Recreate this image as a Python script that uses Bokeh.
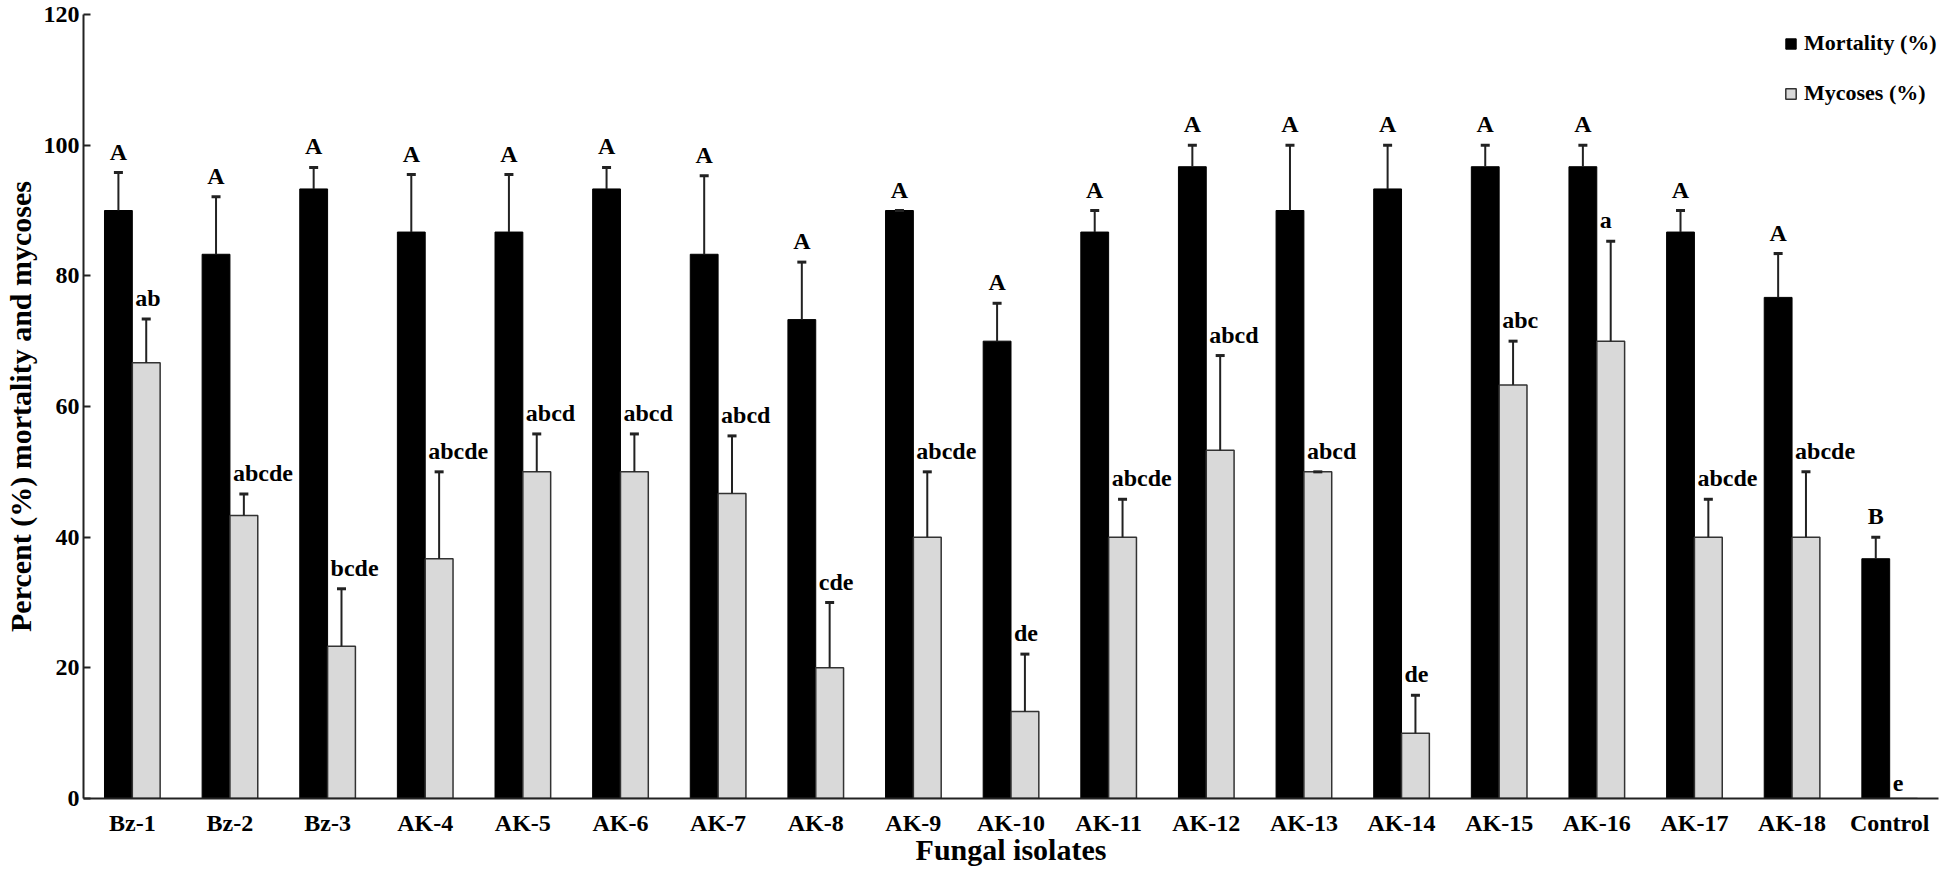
import numpy as np
from bokeh.plotting import figure
from bokeh.models import ColumnDataSource, FactorRange, Range1d, Legend, LegendItem
from bokeh.transform import dodge
from bokeh.core.properties import value
from bokeh.embed import file_html
from bokeh.resources import INLINE

isolates = ["Bz-1", "Bz-2", "Bz-3", "AK-4", "AK-5", "AK-6", "AK-7", "AK-8", "AK-9", "AK-10",
            "AK-11", "AK-12", "AK-13", "AK-14", "AK-15", "AK-16", "AK-17", "AK-18", "Control"]
mortality = [90, 83.3, 93.3, 86.7, 86.7, 93.3, 83.3, 73.3, 90, 70,
             86.7, 96.7, 90, 93.3, 96.7, 96.7, 86.7, 76.7, 36.7]
mortality_se = [5.8, 8.8, 3.3, 8.8, 8.8, 3.3, 12.0, 8.8, 0, 5.8,
                3.3, 3.3, 10, 6.7, 3.3, 3.3, 3.3, 6.7, 3.3]
mycoses = [66.7, 43.3, 23.3, 36.7, 50, 50, 46.7, 20, 40, 13.3,
           40, 53.3, 50, 10, 63.3, 70, 40, 40, 0]
mycoses_se = [6.7, 3.3, 8.8, 13.3, 5.8, 5.8, 8.8, 10, 10, 8.8,
              5.8, 14.5, 0, 5.8, 6.7, 15.3, 5.8, 10, np.nan]
mortality_letters = ["A"] * 18 + ["B"]
mycoses_letters = ["ab", "abcde", "bcde", "abcde", "abcd", "abcd", "abcd", "cde", "abcde", "de",
                   "abcde", "abcd", "abcd", "de", "abc", "a", "abcde", "abcde", "e"]

FONT = "Liberation Serif"
BW = 0.285

m = np.array(mortality, dtype=float)
me = np.array(mortality_se, dtype=float)
y = np.array(mycoses, dtype=float)
ye = np.array(mycoses_se, dtype=float)

src = ColumnDataSource(dict(
    cat=isolates, mort=m, mort_top=m + me, mort_lbl=mortality_letters,
    myc=y, myc_top=y + ye, myc_lbl_y=y + np.nan_to_num(ye), myc_lbl=mycoses_letters,
))

p = figure(width=1944, height=868, output_backend="svg", toolbar_location=None,
           x_range=FactorRange(*isolates, range_padding=0), y_range=Range1d(0, 120),
           min_border_left=80, min_border_right=6, min_border_top=14, min_border_bottom=64)
p.outline_line_color = None
p.grid.grid_line_color = None
p.background_fill_color = "white"

r1 = p.vbar(x=dodge("cat", -BW / 2, range=p.x_range), top="mort", width=BW, source=src,
            fill_color="black", line_color="black", line_width=1)
r2 = p.vbar(x=dodge("cat", BW / 2, range=p.x_range), top="myc", width=BW, source=src,
            fill_color="#d9d9d9", line_color="#333333", line_width=1.5)

# error bars (upper only)
p.segment(x0=dodge("cat", -BW / 2, range=p.x_range), y0="mort",
          x1=dodge("cat", -BW / 2, range=p.x_range), y1="mort_top",
          source=src, line_color="#222222", line_width=2)
p.scatter(x=dodge("cat", -BW / 2, range=p.x_range), y="mort_top", marker="dash", size=9,
          line_width=3, line_color="#222222", source=src)
p.segment(x0=dodge("cat", BW / 2, range=p.x_range), y0="myc",
          x1=dodge("cat", BW / 2, range=p.x_range), y1="myc_top",
          source=src, line_color="#222222", line_width=2)
p.scatter(x=dodge("cat", BW / 2, range=p.x_range), y="myc_top", marker="dash", size=9,
          line_width=3, line_color="#222222", source=src)

# significance letters
p.text(x=dodge("cat", -BW / 2, range=p.x_range), y="mort_top", text="mort_lbl", source=src,
       text_align="center", text_baseline="bottom", y_offset=-8,
       text_font=value(FONT), text_font_style="bold", text_font_size="24px", text_color="black")
p.text(x=dodge("cat", 0, range=p.x_range), y="myc_lbl_y", text="myc_lbl", source=src,
       text_align="left", text_baseline="bottom", x_offset=3, y_offset=-8,
       text_font=value(FONT), text_font_style="bold", text_font_size="24px", text_color="black")

# axes
for ax in (p.xaxis[0], p.yaxis[0]):
    ax.axis_line_color = "#222222"
    ax.axis_line_width = 2
    ax.major_label_text_font = FONT
    ax.major_label_text_font_style = "bold"
    ax.major_label_text_color = "black"
    ax.axis_label_text_font = FONT
    ax.axis_label_text_font_style = "bold"
    ax.axis_label_text_color = "black"
    ax.minor_tick_line_color = None

p.xaxis.major_tick_line_color = None
p.xaxis.major_label_text_font_size = "24px"
p.xaxis.major_label_standoff = 5
p.xaxis.axis_label = "Fungal isolates"
p.xaxis.axis_label_text_font_size = "30px"
p.xaxis.axis_label_standoff = -6

p.yaxis.ticker = [0, 20, 40, 60, 80, 100, 120]
p.yaxis.major_tick_in = 7
p.yaxis.major_tick_out = 0
p.yaxis.major_tick_line_color = "#222222"
p.yaxis.major_tick_line_width = 2
p.yaxis.major_label_text_font_size = "24px"
p.yaxis.major_label_standoff = 4
p.yaxis.axis_label = "Percent (%) mortality and mycoses"
p.yaxis.axis_label_text_font_size = "30px"
p.yaxis.axis_label_standoff = 4

legend = Legend(items=[LegendItem(label="Mortality (%)", renderers=[r1]),
                       LegendItem(label="Mycoses (%)", renderers=[r2])],
                location=(1701, 690), orientation="vertical",
                glyph_width=13, glyph_height=13, label_height=30, spacing=20,
                label_standoff=7, padding=0, margin=0,
                label_text_font=FONT, label_text_font_style="bold", label_text_font_size="22px",
                label_text_color="black",
                background_fill_alpha=0, border_line_color=None)
p.add_layout(legend)

open("out.html", "w").write(file_html(p, INLINE))
